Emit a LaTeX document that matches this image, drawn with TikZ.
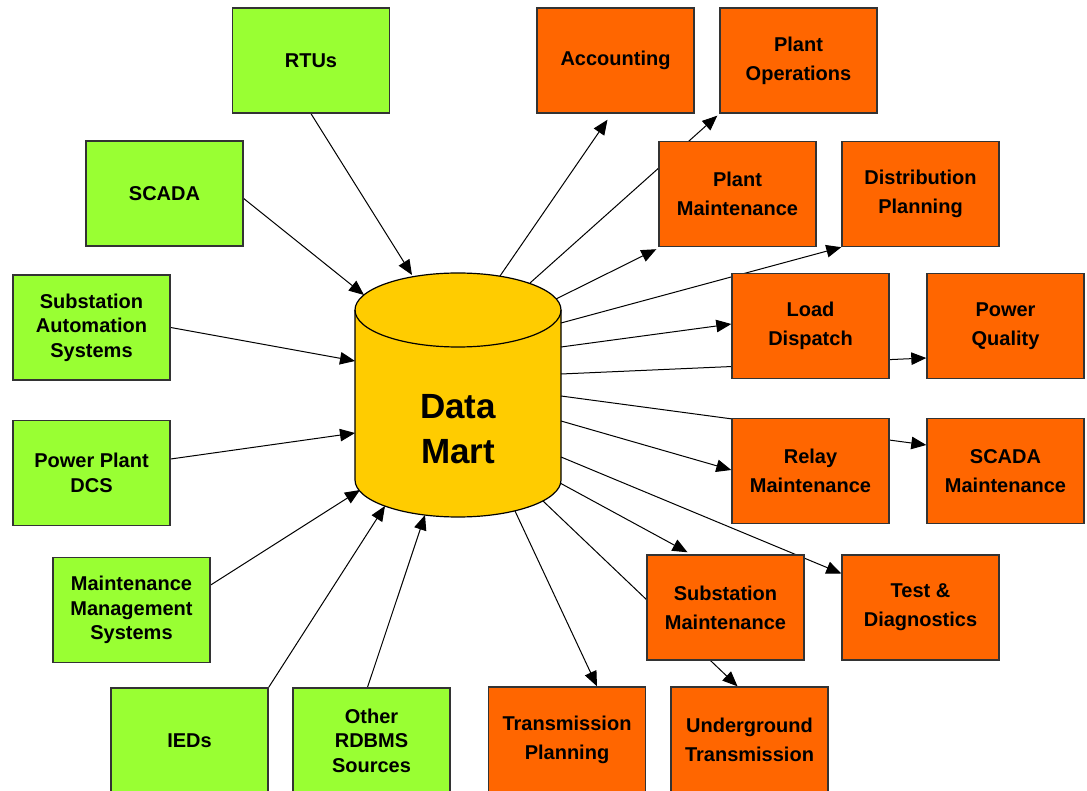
\documentclass[tikz,border=0pt]{standalone}
\usepackage{fontspec}
\setmainfont{Liberation Sans}
\usetikzlibrary{arrows.meta,calc}
\definecolor{grn}{HTML}{99FF33}
\definecolor{org}{HTML}{FF6600}
\definecolor{yel}{HTML}{FFCC00}
\definecolor{edgec}{HTML}{333333}
\pgfdeclarelayer{bg}
\pgfdeclarelayer{mid}
\pgfsetlayers{bg,mid,main}
\tikzset{
  box/.style={draw=edgec, line width=1.4pt, minimum width=157pt, minimum height=105pt,
    inner sep=0pt, align=center, text=black},
  gbox/.style={box, fill=grn, font=\fontsize{20}{24.5}\selectfont\bfseries},
  obox/.style={box, fill=org, font=\fontsize{20}{29}\selectfont\bfseries},
  conn/.style={draw=black, line width=1pt, -{Triangle[length=15pt,width=12.5pt]}},
}
\begin{document}
\begin{tikzpicture}[x=1pt,y=-1pt]
\useasboundingbox (0,0) rectangle (1087,791);
% green sources
\node[gbox] (rtu)   at (311,60.5)   {\raisebox{-2pt}{RTUs}};
\node[gbox] (scada) at (164.5,193.5) {\raisebox{-2pt}{SCADA}};
\node[gbox] (sas)   at (91.5,327.5) {Substation\\Automation\\Systems};
\node[gbox] (ppd)   at (91.5,473)   {Power Plant\\DCS};
\node[gbox] (mms)   at (131.5,610)  {Maintenance\\Management\\Systems};
\node[gbox] (ieds)  at (189.5,740.5) {IEDs};
\node[gbox] (other) at (371.5,740.5) {Other\\RDBMS\\Sources};
% orange targets
\node[obox] (acc) at (615.5,60.5) {\raisebox{-1pt}{Accounting}};
\node[obox] (po)  at (798.5,60.5) {Plant\\Operations};
\node[obox] (pm)  at (737.5,194)  {Plant\\Maintenance};
\node[obox] (dp)  at (920.5,194)  {Distribution\\Planning};
\node[obox] (ld)  at (810.5,326)  {Load\\Dispatch};
\node[obox] (pq)  at (1005.5,326) {Power\\Quality};
\node[obox] (rm)  at (810.5,471)  {Relay\\Maintenance};
\node[obox] (scm) at (1005.5,471) {SCADA\\Maintenance};
\node[obox] (ssm) at (725.5,607.5) {Substation\\Maintenance};
\node[obox] (td)  at (920.5,607.5) {Test \&\\Diagnostics};
\node[obox] (tp)  at (567,739.5)  {Transmission\\Planning};
\node[obox] (ut)  at (749.5,739.5) {Underground\\Transmission};
% data mart
\node[font=\fontsize{35}{45}\selectfont\bfseries, align=center] (dm) at (458,429) {Data\\Mart};
\begin{pgfonlayer}{bg}
\fill[white] (0,0) rectangle (1087,791);
\filldraw[fill=yel, draw=black, line width=1.2pt]
  (355,310) -- (355,480)
  .. controls (355,500.4) and (401.1,517) .. (458,517)
  .. controls (514.9,517) and (561,500.4) .. (561,480)
  -- (561,310)
  .. controls (561,289.6) and (514.9,273) .. (458,273)
  .. controls (401.1,273) and (355,289.6) .. (355,310) -- cycle;
\draw[black, line width=1.2pt] (355,310)
  .. controls (355,330.4) and (401.1,347) .. (458,347)
  .. controls (514.9,347) and (561,330.4) .. (561,310);
\end{pgfonlayer}
% cylinder attach points
\coordinate (c1) at (412,275);
\coordinate (c2) at (364,295);
\coordinate (c3) at (355,361);
\coordinate (c4) at (355,433);
\coordinate (c5) at (360,490);
\coordinate (c6) at (385,506);
\coordinate (c7) at (425,515);
\coordinate (c8) at (500,276);
\coordinate (c9) at (530,283);
\coordinate (c10) at (556,299);
\coordinate (c11) at (561,323);
\coordinate (c12) at (561,347);
\coordinate (c13) at (561,374);
\coordinate (c14) at (561,396);
\coordinate (c15) at (561,421);
\coordinate (c16) at (561,457);
\coordinate (c17) at (560,483);
\coordinate (c18) at (543,501);
\coordinate (c19) at (515,511);
\begin{pgfonlayer}{mid}
\draw[conn] (rtu.south) -- (c1);
\draw[conn] ($(scada.east)+(0,5)$) -- (c2);
\draw[conn] (sas.east) -- (c3);
\draw[conn] ($(ppd.east)+(0,-14)$) -- (c4);
\draw[conn] ($(mms.east)+(0,-25)$) -- (c5);
\draw[conn] (ieds.north east) -- (c6);
\draw[conn] ($(other.north)+(-4,0)$) -- (c7);
\draw[conn] (c8) -- ($(acc.south)+(-8,6)$);
\draw[conn] (c9) -- ($(po.south west)+(-2,2)$);
\draw[conn] (c10) -- ($(pm.south west)+(-2,2)$);
\draw[conn] (c11) -- (dp.south west);
\draw[conn] (c12) -- ($(ld.west)+(0,-2)$);
\draw[conn] (c13) -- ($(pq.west)+(0,32)$);
\draw[conn] (c14) -- ($(scm.west)+(0,-26)$);
\draw[conn] (c15) -- ($(rm.west)+(0,-1)$);
\draw[conn] (c16) -- ($(td.west)+(0,-34)$);
\draw[conn] (c17) -- ($(ssm.north)+(-38,-2)$);
\draw[conn] (c18) -- ($(ut.north)+(-12,0)$);
\draw[conn] (c19) -- ($(tp.north)+(30,0)$);
\end{pgfonlayer}
\end{tikzpicture}
\end{document}
